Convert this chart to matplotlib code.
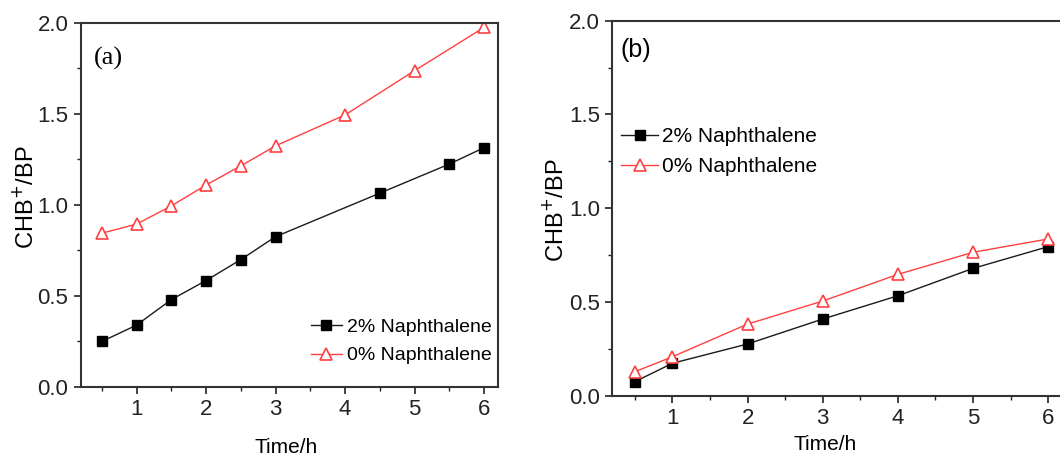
import matplotlib
matplotlib.use("Agg")
import matplotlib.pyplot as plt
from matplotlib.ticker import MultipleLocator

plt.rcParams['font.family'] = ['Liberation Sans', 'DejaVu Sans']

# Panel (a)
t_a_with = [0.5, 1.0, 1.5, 2.0, 2.5, 3.0, 4.5, 5.5, 6.0]
v_a_with = [0.25, 0.34, 0.48, 0.585, 0.70, 0.826, 1.065, 1.225, 1.315]
t_a_without = [0.5, 1.0, 1.5, 2.0, 2.5, 3.0, 4.0, 5.0, 6.0]
v_a_without = [0.845, 0.895, 0.995, 1.11, 1.215, 1.325, 1.495, 1.738, 1.976]

# Panel (b)
t_b = [0.5, 1, 2, 3, 4, 5, 6]
v_b_with = [0.075, 0.173, 0.276, 0.409, 0.533, 0.679, 0.795]
v_b_without = [0.128, 0.208, 0.382, 0.505, 0.647, 0.765, 0.836]

label_with = "2% Naphthalene"
label_without = "0% Naphthalene"
xticks = [1, 2, 3, 4, 5, 6]
yticks = [0.0, 0.5, 1.0, 1.5, 2.0]

fig = plt.figure(figsize=(10.6, 4.57), dpi=100)
ax1 = fig.add_axes([0.0764, 0.1532, 0.3934, 0.7965])
ax2 = fig.add_axes([0.5777, 0.1341, 0.4253, 0.8206])

black = '#1a1a1a'
red = '#ff4040'

def style(ax, panel_label, serif, xlab_xy, ylab_xy):
    ax.set_xlim(0.2, 6.2)
    ax.set_ylim(0, 2.0)
    ax.set_xticks(xticks)
    ax.set_yticks(yticks)
    ax.set_yticklabels([f"{v:.1f}" for v in yticks])
    ax.xaxis.set_minor_locator(MultipleLocator(0.5))
    ax.yaxis.set_minor_locator(MultipleLocator(0.25))
    ax.tick_params(which='major', direction='out', length=5, width=1.2, labelsize=16,
                   colors='#222222', pad=4)
    ax.tick_params(which='minor', direction='out', length=3, width=1.0, colors='#222222')
    for s in ax.spines.values():
        s.set_linewidth(1.5)
        s.set_color('#333333')
    ax.set_xlabel("Time/h", fontsize=15, va='center')
    ax.set_ylabel("CHB$^{+}$/BP", fontsize=17, va='center')
    ax.xaxis.set_label_coords(*xlab_xy)
    ax.yaxis.set_label_coords(*ylab_xy)
    if serif:
        ax.text(0.03, 0.935, panel_label, transform=ax.transAxes, fontsize=19,
                family=['Liberation Serif', 'DejaVu Serif'], va='top', ha='left')
    else:
        ax.text(0.017, 0.955, panel_label, transform=ax.transAxes, fontsize=18,
                va='top', ha='left')

ax1.plot(t_a_with, v_a_with, '-', color=black, lw=1.0, marker='s', ms=7,
         mfc='black', mec='black', label=label_with)
ax1.plot(t_a_without, v_a_without, '-', color=red, lw=1.0, marker='^', ms=9,
         mfc='white', mec=red, mew=1.2, label=label_without)
style(ax1, "(a)", True, (0.493, -0.165), (-0.134, 0.522))
ax1.legend(loc='lower right', bbox_to_anchor=(1.012, 0.03), frameon=False, fontsize=14,
           handlelength=1.6, handletextpad=0.25, labelspacing=0.55, borderaxespad=0.2)

ax2.plot(t_b, v_b_with, '-', color=black, lw=1.0, marker='s', ms=7,
         mfc='black', mec='black', label=label_with)
ax2.plot(t_b, v_b_without, '-', color=red, lw=1.0, marker='^', ms=9,
         mfc='white', mec=red, mew=1.2, label=label_without)
style(ax2, "(b)", False, (0.473, -0.129), (-0.127, 0.494))
ax2.legend(loc='upper left', bbox_to_anchor=(-0.009, 0.75), frameon=False, fontsize=15,
           handlelength=1.8, handletextpad=0.2, labelspacing=0.55, borderaxespad=0.2)

fig.savefig("out.png", dpi=100)
